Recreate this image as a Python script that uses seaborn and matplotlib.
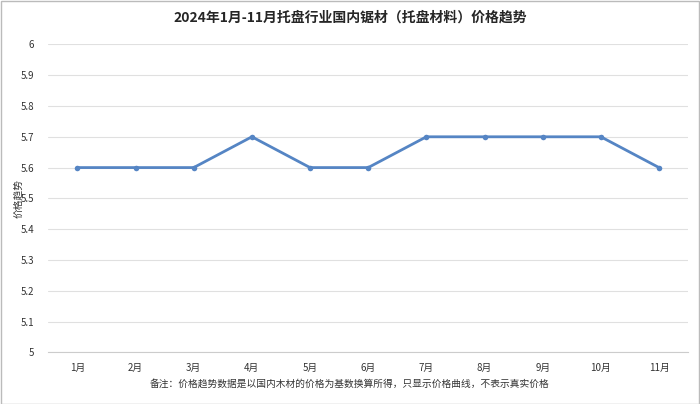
import matplotlib.pyplot as plt
import seaborn as sns
import pandas as pd

# 数据
months = ['1月', '2月', '3月', '4月', '5月', '6月', '7月', '8月', '9月', '10月', '11月']
prices = [5.6, 5.6, 5.6, 5.7, 5.6, 5.6, 5.7, 5.7, 5.7, 5.7, 5.6]
y_ticks = [5.0, 5.1, 5.2, 5.3, 5.4, 5.5, 5.6, 5.7, 5.8, 5.9, 6.0]

sns.set_style('white')
plt.rcParams['font.family'] = ['Noto Sans CJK SC', 'DejaVu Sans']

df = pd.DataFrame({'month': months, 'price': prices})

fig = plt.figure(figsize=(7, 4.04), dpi=100)
ax = fig.add_axes([0.069, 0.128, 0.914, 0.762])

sns.lineplot(data=df, x='month', y='price', ax=ax, color='#5585c4',
             linewidth=2, marker='o', markersize=4, markeredgewidth=0, sort=False)

ax.set_ylim(5, 6)
ax.set_yticks(y_ticks)
ax.set_yticklabels([f'{v:g}' for v in y_ticks], fontsize=7, color='#333333')
ax.set_xlim(-0.5, len(months) - 0.5)
ax.tick_params(axis='x', labelsize=7, colors='#333333', length=0, pad=8)
ax.tick_params(axis='y', length=0, pad=10)
ax.grid(axis='y', color='#e0e0e0', linewidth=0.8)
for s in ['top', 'right', 'left']:
    ax.spines[s].set_visible(False)
ax.spines['bottom'].set_color('#cccccc')
ax.set_xlabel('')
ax.set_ylabel('')
fig.text(0.026, 0.508, '价格趋势', rotation=90, ha='center', va='center',
         fontsize=7, color='#333333')

fig.suptitle('2024年1月-11月托盘行业国内锯材（托盘材料）价格趋势',
             fontsize=10, fontweight='bold', y=0.975)
fig.text(0.5, 0.042, '备注：价格趋势数据是以国内木材的价格为基数换算所得，只显示价格曲线，不表示真实价格',
         ha='center', fontsize=7, color='#333333')

fig.patches.append(plt.Rectangle((0.001, 0.001), 0.998, 0.997, transform=fig.transFigure,
                                 fill=False, edgecolor='#bbbbbb', linewidth=1))

fig.savefig('out.png', dpi=100)
